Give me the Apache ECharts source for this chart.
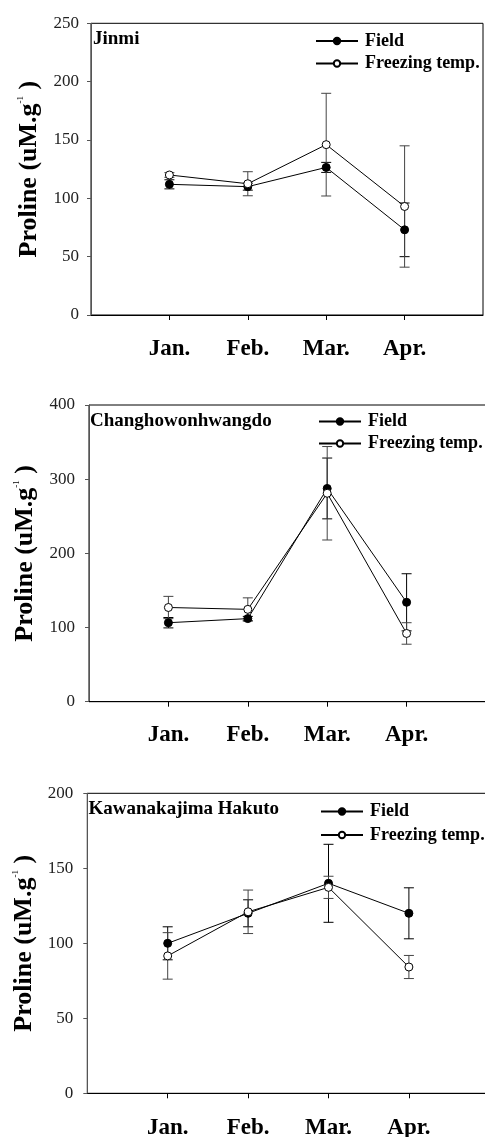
<!DOCTYPE html>
<html>
<head>
<meta charset="utf-8">
<script src="https://cdn.jsdelivr.net/npm/echarts@6/dist/echarts.min.js"></script>
<style>
html,body{margin:0;padding:0;background:#fff;}
#c{width:485px;height:1137px;}
</style>
</head>
<body>
<div id="c"></div>
<script>
const months = ['Jan.', 'Feb.', 'Mar.', 'Apr.'];
const panelTitles = ['Jinmi', 'Changhowonhwangdo', 'Kawanakajima Hakuto'];
const yMax = [250, 400, 200];
const yStep = [50, 100, 50];

const jinmiField = [112, 110, 126.5, 73];
const jinmiFieldErr = [3.9, 3, 4.3, 23];
const jinmiFreeze = [120, 112.5, 146, 93];
const jinmiFreezeErr = [2, 10.3, 44, 52];

const changField = [106.5, 112, 287.5, 134];
const changFieldErr = [7, 3, 41, 38.5];
const changFreeze = [127, 124.5, 281, 92];
const changFreezeErr = [15, 15.5, 63, 14.5];

const kawaField = [100, 120, 140, 120];
const kawaFieldErr = [11, 9, 26, 17];
const kawaFreeze = [91.6, 121, 137.3, 84.2];
const kawaFreezeErr = [15.5, 14.5, 7.4, 7.7];

const fieldSets = [[jinmiField, jinmiFieldErr], [changField, changFieldErr], [kawaField, kawaFieldErr]];
const freezeSets = [[jinmiFreeze, jinmiFreezeErr], [changFreeze, changFreezeErr], [kawaFreeze, kawaFreezeErr]];

const FONT = 'Liberation Serif, Times New Roman, serif';

// layout (pixels)
const grids = [
  {left: 91, top: 23.3, width: 392, height: 291.7},
  {left: 89, top: 405, width: 397, height: 296.7},
  {left: 87.3, top: 793.3, width: 402, height: 300}
];
const yLabelMargin = [12, 14, 14];
const xLabelMargin = [23, 22, 23];
const nameGaps = [49, 49, 49];
const legendPos = [
  {left: 315, top: 32, gap: 4.5},
  {left: 318, top: 412.5, gap: 4},
  {left: 320, top: 802.5, gap: 5.5}
];
const titlePos = [
  {left: 93, top: 29.5},
  {left: 90, top: 412},
  {left: 88.5, top: 799.5}
];

const option = {
  animation: false,
  backgroundColor: '#fff',
  title: [],
  legend: [],
  grid: [],
  xAxis: [],
  yAxis: [],
  series: []
};

function errRender(color) {
  return function (params, api) {
    const x = api.value(0), lo = api.value(1), hi = api.value(2);
    const a = api.coord([x, lo]);
    const b = api.coord([x, hi]);
    const w = 5;
    const st = {stroke: color, lineWidth: 1};
    return {
      type: 'group',
      children: [
        {type: 'line', shape: {x1: a[0], y1: a[1], x2: b[0], y2: b[1]}, style: st},
        {type: 'line', shape: {x1: a[0] - w, y1: a[1], x2: a[0] + w, y2: a[1]}, style: st},
        {type: 'line', shape: {x1: b[0] - w, y1: b[1], x2: b[0] + w, y2: b[1]}, style: st}
      ]
    };
  };
}

for (let i = 0; i < 3; i++) {
  option.grid.push(Object.assign({
    show: true, borderColor: '#000', borderWidth: 1, backgroundColor: 'transparent',
    containLabel: false, outerBoundsMode: 'none'
  }, grids[i]));
  option.title.push({
    text: panelTitles[i], left: titlePos[i].left, top: titlePos[i].top, padding: 0,
    textStyle: {fontFamily: FONT, fontWeight: 'bold', fontSize: 19, color: '#000'}
  });
  option.legend.push({
    data: ['Field', 'Freezing temp.'], orient: 'vertical',
    left: legendPos[i].left, top: legendPos[i].top, itemGap: legendPos[i].gap,
    itemWidth: 42, itemHeight: 8, padding: 0, selectedMode: false,
    textStyle: {fontFamily: FONT, fontWeight: 'bold', fontSize: 18, color: '#000', padding: [0, 0, 0, 2]}
  });
  option.xAxis.push({
    type: 'value', gridIndex: i, min: 0, max: 5, interval: 1,
    axisLine: {show: true, lineStyle: {color: '#000', width: 1}},
    axisTick: {show: true, length: 5, customValues: [1, 2, 3, 4], lineStyle: {color: '#000'}},
    axisLabel: {
      customValues: [1, 2, 3, 4], margin: xLabelMargin[i],
      formatter: v => months[v - 1] || '',
      fontFamily: FONT, fontWeight: 'bold', fontSize: 23, color: '#000'
    },
    splitLine: {show: false}
  });
  option.yAxis.push({
    type: 'value', gridIndex: i, min: 0, max: yMax[i], interval: yStep[i],
    name: '{t|Proline (uM.g}{s|-1}{t| )}',
    nameLocation: 'middle', nameGap: nameGaps[i],
    nameTextStyle: {
      rich: {
        t: {fontFamily: FONT, fontWeight: 'bold', fontSize: 26, color: '#000'},
        s: {fontFamily: FONT, fontSize: 9, color: '#000', verticalAlign: 'top'}
      }
    },
    axisLine: {show: true, lineStyle: {color: '#555', width: 1}},
    axisTick: {show: true, length: 4, lineStyle: {color: '#555'}},
    axisLabel: {margin: yLabelMargin[i], fontFamily: FONT, fontSize: 17, color: '#222'},
    splitLine: {show: false}
  });

  const [fv, fe] = fieldSets[i];
  const [zv, ze] = freezeSets[i];

  option.series.push({
    type: 'custom', name: 'fieldErr' + i, xAxisIndex: i, yAxisIndex: i, z: 1,
    renderItem: errRender('#000'), encode: {x: 0, y: [1, 2]},
    data: fv.map((v, k) => [k + 1, v - fe[k], v + fe[k]])
  });
  option.series.push({
    type: 'custom', name: 'freezeErr' + i, xAxisIndex: i, yAxisIndex: i, z: 1,
    renderItem: errRender('#444'), encode: {x: 0, y: [1, 2]},
    data: zv.map((v, k) => [k + 1, v - ze[k], v + ze[k]])
  });
  option.series.push({
    type: 'line', name: 'Field', xAxisIndex: i, yAxisIndex: i, z: 3,
    symbol: 'circle', symbolSize: 8,
    lineStyle: {color: '#000', width: 1},
    itemStyle: {color: '#000', borderColor: '#000', borderWidth: 1},
    data: fv.map((v, k) => [k + 1, v])
  });
  option.series.push({
    type: 'line', name: 'Freezing temp.', xAxisIndex: i, yAxisIndex: i, z: 4,
    symbol: 'circle', symbolSize: 8,
    lineStyle: {color: '#000', width: 1},
    itemStyle: {color: '#fff', borderColor: '#000', borderWidth: 1},
    data: zv.map((v, k) => [k + 1, v])
  });
}

const chart = echarts.init(document.getElementById('c'), null, {renderer: 'canvas'});
chart.setOption(option);
</script>
</body>
</html>
